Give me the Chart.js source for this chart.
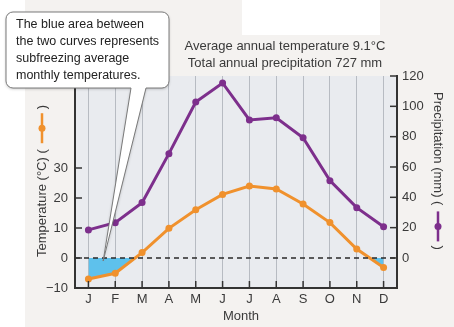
<!DOCTYPE html>
<html>
<head>
<meta charset="utf-8">
<script src="https://cdn.jsdelivr.net/npm/chart.js@4"></script>
<style>
  html, body { margin:0; padding:0; }
  body { width:454px; height:327px; position:relative; background:#f4f2f0; overflow:hidden; }
  #strip { position:absolute; left:0; top:0; width:25px; height:327px; background:#ffffff; }
  #patch { position:absolute; left:242px; top:0; width:138px; height:35px; background:#ffffff; }
  #wrap { position:absolute; left:0; top:0; width:454px; height:327px; }
</style>
</head>
<body>
<div id="strip"></div>
<div id="patch"></div>
<div id="wrap"><canvas id="c" width="454" height="327"></canvas></div>
<script>
const months = ['J','F','M','A','M','J','J','A','S','O','N','D'];
const temperature = [-7.0, -5.1, 1.8, 9.9, 16.1, 21.2, 24.0, 23.0, 18.0, 11.8, 3.0, -3.2];
const precipitation = [18.5, 23.3, 36.5, 68.8, 102.8, 115.4, 91, 92.5, 79.3, 51, 33.2, 20.6];
const tempTicks = [-10, 0, 10, 20, 30];
const precipTicks = [0, 20, 40, 60, 80, 100, 120];
const titleLines = ['Average annual temperature 9.1°C', 'Total annual precipitation 727 mm'];
const calloutLines = ['The blue area between', 'the two curves represents', 'subfreezing average', 'monthly temperatures.'];
const tempTitle = 'Temperature (°C) (';
const precipTitle = 'Precipitation (mm) (';
const xTitle = 'Month';

const ORANGE = '#f0912d', PURPLE = '#7d2f8c', BLUE = '#5ec1ec';
const FONT = '"Helvetica Neue", Arial, "Liberation Sans", sans-serif';
const TXT = '#3a3a3a';

const decor = {
  id: 'decor',
  beforeDraw(chart) {
    const {ctx, chartArea: a} = chart;
    ctx.save();
    ctx.fillStyle = '#e9ebef';
    ctx.fillRect(a.left, a.top, a.right - a.left, a.bottom - a.top);
    ctx.restore();
  },
  afterDatasetsDraw(chart) {
    const {ctx, chartArea: a, scales} = chart;
    ctx.save();
    const y0 = scales.yT.getPixelForValue(0);
    ctx.strokeStyle = '#2a2a2a'; ctx.lineWidth = 1.3; ctx.setLineDash([5,4]);
    ctx.beginPath(); ctx.moveTo(a.left, y0); ctx.lineTo(a.right, y0); ctx.stroke();
    ctx.setLineDash([]);
    ctx.restore();
  },
  afterDraw(chart) {
    const {ctx, chartArea: a, scales} = chart;
    ctx.save();
    ctx.strokeStyle = '#333'; ctx.lineWidth = 1.5;
    scales.x.ticks.forEach((t, i) => {
      const x = scales.x.getPixelForTick(i);
      ctx.beginPath(); ctx.moveTo(x, a.bottom); ctx.lineTo(x, a.bottom - 7); ctx.stroke();
    });
    scales.yT.ticks.forEach((t) => {
      const y = scales.yT.getPixelForValue(t.value);
      ctx.beginPath(); ctx.moveTo(a.left, y); ctx.lineTo(a.left + 7, y); ctx.stroke();
    });
    scales.yP.ticks.forEach((t) => {
      const y = scales.yP.getPixelForValue(t.value);
      ctx.beginPath(); ctx.moveTo(a.right, y); ctx.lineTo(a.right - 7, y); ctx.stroke();
    });

    ctx.fillStyle = TXT;
    ctx.font = '13px ' + FONT;
    ctx.textAlign = 'center'; ctx.textBaseline = 'middle';
    ctx.fillText(titleLines[0], 285, 46);
    ctx.fillText(titleLines[1], 285, 63);
    ctx.fillText(xTitle, (a.left + a.right) / 2 + 5, 316);

    ctx.save();
    ctx.translate(42, 257);
    ctx.rotate(-Math.PI / 2);
    ctx.textAlign = 'left'; ctx.textBaseline = 'middle';
    ctx.font = '13px ' + FONT;
    ctx.fillText(tempTitle, 0, 0);
    const wT = ctx.measureText(tempTitle).width;
    ctx.strokeStyle = ORANGE; ctx.lineWidth = 2.5;
    ctx.beginPath(); ctx.moveTo(wT + 6, 0); ctx.lineTo(wT + 36, 0); ctx.stroke();
    ctx.fillStyle = ORANGE;
    ctx.beginPath(); ctx.arc(wT + 21, 0, 3.5, 0, Math.PI * 2); ctx.fill();
    ctx.fillStyle = TXT;
    ctx.fillText(')', wT + 40, 0);
    ctx.restore();

    ctx.save();
    ctx.translate(438, 92);
    ctx.rotate(Math.PI / 2);
    ctx.textAlign = 'left'; ctx.textBaseline = 'middle';
    ctx.font = '13px ' + FONT;
    ctx.fillStyle = TXT;
    ctx.fillText(precipTitle, 0, 0);
    const wP = ctx.measureText(precipTitle).width;
    ctx.strokeStyle = PURPLE; ctx.lineWidth = 2.5;
    ctx.beginPath(); ctx.moveTo(wP + 6, 0); ctx.lineTo(wP + 36, 0); ctx.stroke();
    ctx.fillStyle = PURPLE;
    ctx.beginPath(); ctx.arc(wP + 21, 0, 3.5, 0, Math.PI * 2); ctx.fill();
    ctx.fillStyle = TXT;
    ctx.fillText(')', wP + 40, 0);
    ctx.restore();

    const tipX = scales.x.getPixelForValue(0) + 0.55 * (scales.x.getPixelForValue(1) - scales.x.getPixelForValue(0));
    const tipY = scales.yT.getPixelForValue(-1);
    const bx = 6, by = 12, bw = 163, bh = 76, r = 7;
    const t1 = 131, t2 = 146;
    ctx.beginPath();
    ctx.moveTo(bx + r, by);
    ctx.lineTo(bx + bw - r, by);
    ctx.arcTo(bx + bw, by, bx + bw, by + r, r);
    ctx.lineTo(bx + bw, by + bh - r);
    ctx.arcTo(bx + bw, by + bh, bx + bw - r, by + bh, r);
    ctx.lineTo(t2, by + bh);
    ctx.lineTo(tipX, tipY);
    ctx.lineTo(t1, by + bh);
    ctx.lineTo(bx + r, by + bh);
    ctx.arcTo(bx, by + bh, bx, by + bh - r, r);
    ctx.lineTo(bx, by + r);
    ctx.arcTo(bx, by, bx + r, by, r);
    ctx.closePath();
    ctx.shadowColor = 'rgba(0,0,0,0.25)'; ctx.shadowBlur = 3; ctx.shadowOffsetY = 1;
    ctx.fillStyle = '#ffffff'; ctx.fill();
    ctx.shadowColor = 'transparent';
    ctx.strokeStyle = '#7a7a7a'; ctx.lineWidth = 1; ctx.stroke();
    ctx.fillStyle = '#222';
    ctx.font = '12.5px ' + FONT;
    ctx.textAlign = 'left'; ctx.textBaseline = 'middle';
    calloutLines.forEach((l, i) => ctx.fillText(l, 16, 25 + i * 17));
    ctx.restore();
  }
};

const minusFmt = (v) => String(v).replace('-', '\u2212');

new Chart(document.getElementById('c'), {
  type: 'line',
  data: {
    labels: months,
    datasets: [
      {
        label: 'Temperature',
        data: temperature,
        yAxisID: 'yT',
        borderColor: ORANGE,
        backgroundColor: ORANGE,
        borderWidth: 3,
        pointRadius: 3.5,
        pointBackgroundColor: ORANGE,
        pointBorderWidth: 0,
        tension: 0,
        fill: { target: { value: 0 }, above: 'rgba(0,0,0,0)', below: BLUE }
      },
      {
        label: 'Precipitation',
        data: precipitation,
        yAxisID: 'yP',
        borderColor: PURPLE,
        backgroundColor: PURPLE,
        borderWidth: 3,
        pointRadius: 3.5,
        pointBackgroundColor: PURPLE,
        pointBorderWidth: 0,
        tension: 0,
        fill: false
      }
    ]
  },
  options: {
    responsive: false,
    animation: false,
    layout: { padding: { top: 76, left: 0, right: 0, bottom: 0 } },
    plugins: { legend: { display: false }, tooltip: { enabled: false } },
    scales: {
      x: {
        offset: true,
        grid: { offset: false, color: '#b7bbc2', lineWidth: 1, drawTicks: false },
        border: { color: '#333', width: 2 },
        ticks: { color: TXT, font: { size: 13, family: FONT }, padding: 4, maxRotation: 0 },
        afterFit(s) { s.height = 39; }
      },
      yT: {
        position: 'left',
        min: -10, max: 60.67,
        grid: { display: false, drawTicks: false },
        border: { color: '#333', width: 2 },
        ticks: { color: TXT, font: { size: 13, family: FONT }, padding: 7, stepSize: 10, callback: minusFmt },
        afterBuildTicks(s) { s.ticks = tempTicks.map(v => ({ value: v })); },
        afterFit(s) { s.width = 75; }
      },
      yP: {
        position: 'right',
        min: -19.8, max: 120,
        grid: { display: false, drawTicks: false },
        border: { color: '#333', width: 2 },
        ticks: { color: TXT, font: { size: 13, family: FONT }, padding: 5, stepSize: 20, callback: minusFmt },
        afterBuildTicks(s) { s.ticks = precipTicks.map(v => ({ value: v })); },
        afterFit(s) { s.width = 57; }
      }
    }
  },
  plugins: [decor]
});
</script>
</body>
</html>
